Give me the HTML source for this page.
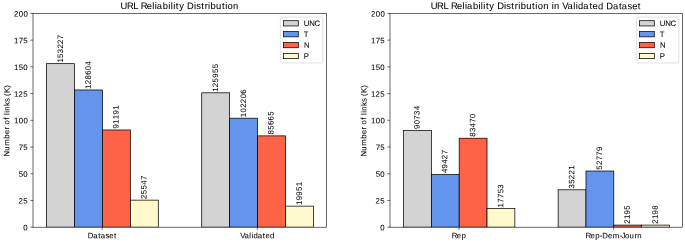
<!DOCTYPE html><html><head><meta charset="utf-8"><style>html,body{margin:0;padding:0;background:#fff;}svg{display:block;will-change:transform;}text{font-family:"Liberation Sans",sans-serif;fill:#000;stroke:#000;stroke-width:0.05px;}</style></head><body>
<svg width="685" height="242" viewBox="0 0 685 242">
<rect x="0" y="0" width="685" height="242" fill="#fff"/>
<defs><clipPath id="c0"><rect x="33" y="13.4" width="293.5" height="213.8"/></clipPath><clipPath id="c1"><rect x="390" y="13.4" width="292.5" height="213.8"/></clipPath></defs>
<rect x="46.591" y="63.65" width="27.923" height="163.55" fill="#d3d3d3" stroke="#000" stroke-width="0.736" clip-path="url(#c0)"/>
<rect x="201.718" y="92.804" width="27.923" height="134.396" fill="#d3d3d3" stroke="#000" stroke-width="0.736" clip-path="url(#c0)"/>
<rect x="74.514" y="89.972" width="27.923" height="137.228" fill="#6495ed" stroke="#000" stroke-width="0.736" clip-path="url(#c0)"/>
<rect x="229.641" y="118.192" width="27.923" height="109.008" fill="#6495ed" stroke="#000" stroke-width="0.736" clip-path="url(#c0)"/>
<rect x="102.437" y="129.967" width="27.923" height="97.233" fill="#ff6347" stroke="#000" stroke-width="0.736" clip-path="url(#c0)"/>
<rect x="257.563" y="135.874" width="27.923" height="91.326" fill="#ff6347" stroke="#000" stroke-width="0.736" clip-path="url(#c0)"/>
<rect x="130.359" y="200.14" width="27.923" height="27.06" fill="#fffacd" stroke="#000" stroke-width="0.736" clip-path="url(#c0)"/>
<rect x="285.486" y="206.122" width="27.923" height="21.078" fill="#fffacd" stroke="#000" stroke-width="0.736" clip-path="url(#c0)"/>
<rect x="403.545" y="130.455" width="27.828" height="96.745" fill="#d3d3d3" stroke="#000" stroke-width="0.736" clip-path="url(#c1)"/>
<rect x="558.144" y="189.799" width="27.828" height="37.401" fill="#d3d3d3" stroke="#000" stroke-width="0.736" clip-path="url(#c1)"/>
<rect x="431.373" y="174.613" width="27.828" height="52.587" fill="#6495ed" stroke="#000" stroke-width="0.736" clip-path="url(#c1)"/>
<rect x="585.971" y="171.029" width="27.828" height="56.171" fill="#6495ed" stroke="#000" stroke-width="0.736" clip-path="url(#c1)"/>
<rect x="459.201" y="138.221" width="27.828" height="88.979" fill="#ff6347" stroke="#000" stroke-width="0.736" clip-path="url(#c1)"/>
<rect x="613.799" y="225.104" width="27.828" height="2.096" fill="#ff6347" stroke="#000" stroke-width="0.736" clip-path="url(#c1)"/>
<rect x="487.029" y="208.472" width="27.828" height="18.728" fill="#fffacd" stroke="#000" stroke-width="0.736" clip-path="url(#c1)"/>
<rect x="641.627" y="225.1" width="27.828" height="2.1" fill="#fffacd" stroke="#000" stroke-width="0.736" clip-path="url(#c1)"/>
<rect x="33" y="13.4" width="293.5" height="213.8" fill="none" stroke="#000" stroke-width="0.589"/>
<line x1="30.424" y1="227.2" x2="33" y2="227.2" stroke="#000" stroke-width="0.589"/>
<line x1="30.424" y1="200.475" x2="33" y2="200.475" stroke="#000" stroke-width="0.589"/>
<line x1="30.424" y1="173.75" x2="33" y2="173.75" stroke="#000" stroke-width="0.589"/>
<line x1="30.424" y1="147.025" x2="33" y2="147.025" stroke="#000" stroke-width="0.589"/>
<line x1="30.424" y1="120.3" x2="33" y2="120.3" stroke="#000" stroke-width="0.589"/>
<line x1="30.424" y1="93.575" x2="33" y2="93.575" stroke="#000" stroke-width="0.589"/>
<line x1="30.424" y1="66.85" x2="33" y2="66.85" stroke="#000" stroke-width="0.589"/>
<line x1="30.424" y1="40.125" x2="33" y2="40.125" stroke="#000" stroke-width="0.589"/>
<line x1="30.424" y1="13.4" x2="33" y2="13.4" stroke="#000" stroke-width="0.589"/>
<line x1="102.187" y1="227.2" x2="102.187" y2="229.776" stroke="#000" stroke-width="0.589"/>
<line x1="257.313" y1="227.2" x2="257.313" y2="229.776" stroke="#000" stroke-width="0.589"/>
<rect x="390" y="13.4" width="292.5" height="213.8" fill="none" stroke="#000" stroke-width="0.589"/>
<line x1="387.424" y1="227.2" x2="390" y2="227.2" stroke="#000" stroke-width="0.589"/>
<line x1="387.424" y1="200.475" x2="390" y2="200.475" stroke="#000" stroke-width="0.589"/>
<line x1="387.424" y1="173.75" x2="390" y2="173.75" stroke="#000" stroke-width="0.589"/>
<line x1="387.424" y1="147.025" x2="390" y2="147.025" stroke="#000" stroke-width="0.589"/>
<line x1="387.424" y1="120.3" x2="390" y2="120.3" stroke="#000" stroke-width="0.589"/>
<line x1="387.424" y1="93.575" x2="390" y2="93.575" stroke="#000" stroke-width="0.589"/>
<line x1="387.424" y1="66.85" x2="390" y2="66.85" stroke="#000" stroke-width="0.589"/>
<line x1="387.424" y1="40.125" x2="390" y2="40.125" stroke="#000" stroke-width="0.589"/>
<line x1="387.424" y1="13.4" x2="390" y2="13.4" stroke="#000" stroke-width="0.589"/>
<line x1="458.951" y1="227.2" x2="458.951" y2="229.776" stroke="#000" stroke-width="0.589"/>
<line x1="613.549" y1="227.2" x2="613.549" y2="229.776" stroke="#000" stroke-width="0.589"/>
<rect x="280.382" y="17.081" width="42.438" height="45.829" rx="1.472" fill="#fff" fill-opacity="0.8" stroke="#ccc" stroke-opacity="0.8" stroke-width="0.736"/>
<rect x="283.576" y="20.693" width="14.722" height="5.256" fill="#d3d3d3" stroke="#000" stroke-width="0.736"/>
<rect x="283.576" y="31.587" width="14.722" height="5.256" fill="#6495ed" stroke="#000" stroke-width="0.736"/>
<rect x="283.576" y="42.481" width="14.722" height="5.256" fill="#ff6347" stroke="#000" stroke-width="0.736"/>
<rect x="283.576" y="53.376" width="14.722" height="5.256" fill="#fffacd" stroke="#000" stroke-width="0.736"/>
<rect x="636.382" y="17.081" width="42.438" height="45.829" rx="1.472" fill="#fff" fill-opacity="0.8" stroke="#ccc" stroke-opacity="0.8" stroke-width="0.736"/>
<rect x="639.576" y="20.693" width="14.722" height="5.256" fill="#d3d3d3" stroke="#000" stroke-width="0.736"/>
<rect x="639.576" y="31.587" width="14.722" height="5.256" fill="#6495ed" stroke="#000" stroke-width="0.736"/>
<rect x="639.576" y="42.481" width="14.722" height="5.256" fill="#ff6347" stroke="#000" stroke-width="0.736"/>
<rect x="639.576" y="53.376" width="14.722" height="5.256" fill="#fffacd" stroke="#000" stroke-width="0.736"/>
<text x="0.027 5.475 10.519 12.872 17.595 21.521 26.279" y="0" font-size="7.803" transform="translate(87.843 238.153) rotate(0.05)">Dataset</text>
<text x="-0.086 4.272 9.132 11.181 13.189 17.546 22.589 25.245 29.788" y="0" font-size="7.803" transform="translate(240.22 238.153) rotate(0.05)">Validated</text>
<text x="0.17" y="0" font-size="7.803" transform="translate(23.191 230.25) rotate(0.05)">0</text>
<text x="0.073 4.825" y="0" font-size="7.803" transform="translate(18.472 203.525) rotate(0.05)">25</text>
<text x="0.142 4.853" y="0" font-size="7.803" transform="translate(18.503 176.8) rotate(0.05)">50</text>
<text x="0.156 4.825" y="0" font-size="7.803" transform="translate(18.503 150.075) rotate(0.05)">75</text>
<text x="0.13 4.853 9.537" y="0" font-size="7.803" transform="translate(13.847 123.35) rotate(0.05)">100</text>
<text x="0.13 4.756 9.509" y="0" font-size="7.803" transform="translate(13.785 96.625) rotate(0.05)">125</text>
<text x="0.13 4.825 9.537" y="0" font-size="7.803" transform="translate(13.816 69.9) rotate(0.05)">150</text>
<text x="0.13 4.839 9.509" y="0" font-size="7.803" transform="translate(13.816 43.175) rotate(0.05)">175</text>
<text x="0.073 4.853 9.537" y="0" font-size="7.803" transform="translate(13.847 16.45) rotate(0.05)">200</text>
<text x="-0.066 5.654 10.527 17.554 22.124 26.898 29.57 31.994 36.719 39.005 41.501 43.55 45.614 50.336 54.383 58.199 60.478 63.384 68.572" y="0" font-size="7.803" transform="translate(9.34 156.388) rotate(-89.95)">Number of links (K)</text>
<text x="0.13 4.825 9.547 14.123 18.807 23.572" y="0" font-size="7.803" transform="translate(62.911 62.721) rotate(-89.95)">153227</text>
<text x="0.13 4.756 9.509 14.197 18.875 23.559" y="0" font-size="7.803" transform="translate(218.038 91.875) rotate(-89.95)">125955</text>
<text x="0.13 4.756 9.537 14.22 18.904 23.587" y="0" font-size="7.803" transform="translate(90.834 89.043) rotate(-89.95)">128604</text>
<text x="0.13 4.853 9.44 14.123 18.904 23.587" y="0" font-size="7.803" transform="translate(245.961 117.262) rotate(-89.95)">102206</text>
<text x="0.147 4.813 9.497 14.197 18.863" y="0" font-size="7.803" transform="translate(118.412 128.692) rotate(-89.95)">91191</text>
<text x="0.17 4.825 9.537 14.22 18.875" y="0" font-size="7.803" transform="translate(273.574 134.635) rotate(-89.95)">85665</text>
<text x="0.073 4.825 9.509 14.22 18.889" y="0" font-size="7.803" transform="translate(146.41 198.942) rotate(-89.95)">25547</text>
<text x="0.13 4.83 9.514 14.192 18.863" y="0" font-size="7.803" transform="translate(301.806 205.193) rotate(-89.95)">19951</text>
<text x="-0.148 6.293 12.641 17.524 20.159 26.204 31.694 34.152 36.183 42.083 47.627 50.076 52.535 55.205 58.532 63.489 66.329 73.29 75.576 80.562 84.043 87.441 89.958 95.488 101.317 104.565 106.928 112.446" y="0" font-size="9.363" transform="translate(120.625 8.983) rotate(0.05)">URL Reliability Distribution</text>
<text x="-0.124 5.322 10.604" y="0" font-size="7.803" transform="translate(303.938 25.994) rotate(0.05)">UNC</text>
<text x="-0.133" y="0" font-size="7.803" transform="translate(303.938 36.888) rotate(0.05)">T</text>
<text x="-0.066" y="0" font-size="7.803" transform="translate(303.938 47.782) rotate(0.05)">N</text>
<text x="-0.262" y="0" font-size="7.803" transform="translate(303.938 58.676) rotate(0.05)">P</text>
<text x="-0.144 4.893 9.524" y="0" font-size="7.803" transform="translate(451.982 238.153) rotate(0.05)">Rep</text>
<text x="-0.144 4.893 9.524 14.014 16.668 22.419 27.193 34.038 35.891 39.334 43.901 48.773 51.495" y="0" font-size="7.803" transform="translate(585.659 238.153) rotate(0.05)">Rep-Dem-Journ</text>
<text x="0.17" y="0" font-size="7.803" transform="translate(380.191 230.25) rotate(0.05)">0</text>
<text x="0.073 4.825" y="0" font-size="7.803" transform="translate(375.472 203.525) rotate(0.05)">25</text>
<text x="0.142 4.853" y="0" font-size="7.803" transform="translate(375.503 176.8) rotate(0.05)">50</text>
<text x="0.156 4.825" y="0" font-size="7.803" transform="translate(375.503 150.075) rotate(0.05)">75</text>
<text x="0.13 4.853 9.537" y="0" font-size="7.803" transform="translate(370.847 123.35) rotate(0.05)">100</text>
<text x="0.13 4.756 9.509" y="0" font-size="7.803" transform="translate(370.785 96.625) rotate(0.05)">125</text>
<text x="0.13 4.825 9.537" y="0" font-size="7.803" transform="translate(370.816 69.9) rotate(0.05)">150</text>
<text x="0.13 4.839 9.509" y="0" font-size="7.803" transform="translate(370.816 43.175) rotate(0.05)">175</text>
<text x="0.073 4.853 9.537" y="0" font-size="7.803" transform="translate(370.847 16.45) rotate(0.05)">200</text>
<text x="-0.066 5.654 10.527 17.554 22.124 26.898 29.57 31.994 36.719 39.005 41.501 43.55 45.614 50.336 54.383 58.199 60.478 63.384 68.572" y="0" font-size="7.803" transform="translate(366.34 156.388) rotate(-89.95)">Number of links (K)</text>
<text x="0.147 4.853 9.522 14.23 18.903" y="0" font-size="7.803" transform="translate(419.473 129.181) rotate(-89.95)">90734</text>
<text x="0.18 4.825 9.44 14.123 18.863" y="0" font-size="7.803" transform="translate(574.169 188.622) rotate(-89.95)">35221</text>
<text x="0.17 4.83 9.536 14.123 18.889" y="0" font-size="7.803" transform="translate(447.197 173.235) rotate(-89.95)">49427</text>
<text x="0.142 4.756 9.522 14.206 18.88" y="0" font-size="7.803" transform="translate(602.003 169.859) rotate(-89.95)">52779</text>
<text x="0.17 4.864 9.536 14.206 18.904" y="0" font-size="7.803" transform="translate(475.164 136.982) rotate(-89.95)">83470</text>
<text x="0.073 4.813 9.514 14.192" y="0" font-size="7.803" transform="translate(629.802 223.905) rotate(-89.95)">2195</text>
<text x="0.13 4.839 9.522 14.192 18.914" y="0" font-size="7.803" transform="translate(503.301 207.543) rotate(-89.95)">17753</text>
<text x="0.073 4.813 9.514 14.22" y="0" font-size="7.803" transform="translate(657.63 223.902) rotate(-89.95)">2198</text>
<text x="-0.148 6.293 12.641 17.524 20.159 26.204 31.694 34.152 36.183 42.083 47.627 50.076 52.535 55.205 58.532 63.489 66.329 73.29 75.576 80.562 84.043 87.441 89.958 95.488 101.317 104.565 106.928 112.446 117.83 120.83 123.307 128.691 131.395 136.625 142.457 144.915 147.326 152.553 158.606 161.793 167.244 172.703 175.544 182.081 188.133 190.958 196.625 201.336 207.047" y="0" font-size="9.363" transform="translate(430.797 8.983) rotate(0.05)">URL Reliability Distribution in Validated Dataset</text>
<text x="-0.124 5.322 10.604" y="0" font-size="7.803" transform="translate(659.938 25.994) rotate(0.05)">UNC</text>
<text x="-0.133" y="0" font-size="7.803" transform="translate(659.938 36.888) rotate(0.05)">T</text>
<text x="-0.066" y="0" font-size="7.803" transform="translate(659.938 47.782) rotate(0.05)">N</text>
<text x="-0.262" y="0" font-size="7.803" transform="translate(659.938 58.676) rotate(0.05)">P</text>
</svg></body></html>
